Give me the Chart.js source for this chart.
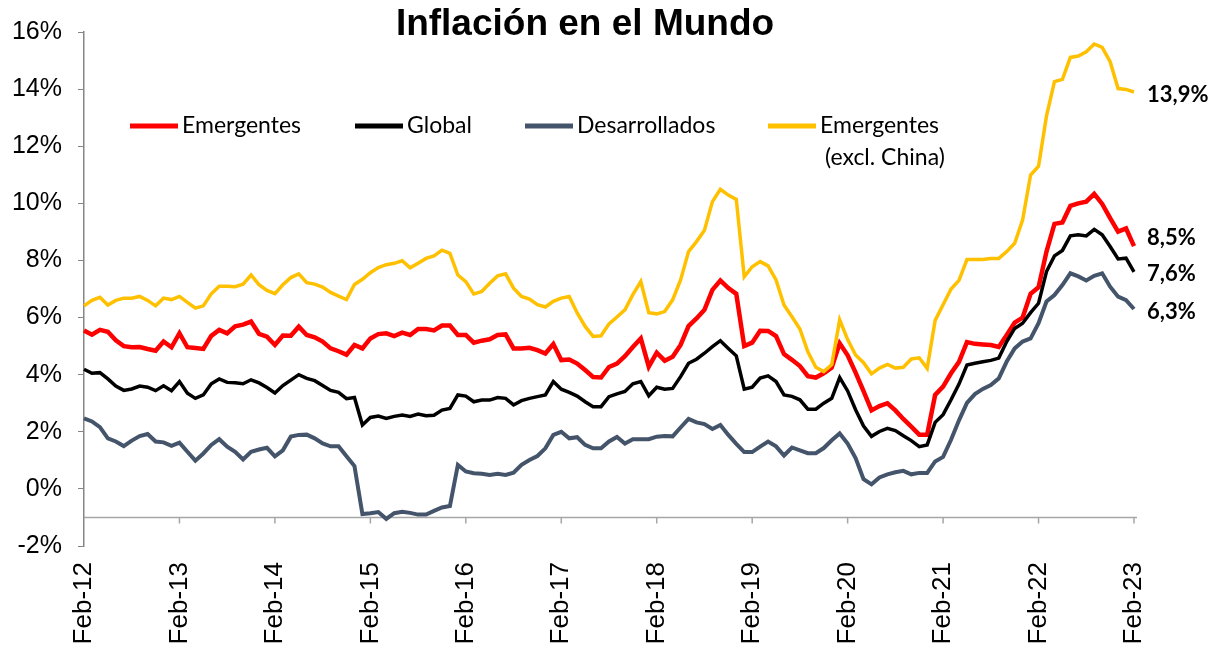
<!DOCTYPE html>
<html>
<head>
<meta charset="utf-8">
<script src="https://cdn.jsdelivr.net/npm/chart.js@4.4.0/dist/chart.umd.min.js"></script>
<style>
    html, body { margin: 0; padding: 0; background: #fff; }
    #caja { width: 1211px; height: 649px; }
</style>
</head>
<body>
<div id="caja"><canvas id="grafico" width="1211" height="649"></canvas></div>
<script>
// etiquetas del eje (una cada 12 meses)
const etiquetasEje = ['Feb-12', 'Feb-13', 'Feb-14', 'Feb-15', 'Feb-16', 'Feb-17',
    'Feb-18', 'Feb-19', 'Feb-20', 'Feb-21', 'Feb-22', 'Feb-23'];

const meses = ['Feb', 'Mar', 'Apr', 'May', 'Jun', 'Jul', 'Aug', 'Sep', 'Oct', 'Nov', 'Dec', 'Jan'];

const emergentes = [
    5.55, 5.4, 5.57, 5.5, 5.2, 5.0, 4.96, 4.97, 4.9, 4.84, 5.16, 4.96,
    5.45, 4.96, 4.93, 4.9, 5.36, 5.57, 5.45, 5.69, 5.75, 5.86, 5.43, 5.33,
    5.04, 5.37, 5.36, 5.68, 5.39, 5.31, 5.16, 4.92, 4.82, 4.7, 5.04, 4.92,
    5.27, 5.42, 5.45, 5.35, 5.47, 5.39, 5.6, 5.6, 5.55, 5.72, 5.72, 5.39,
    5.39, 5.12, 5.19, 5.24, 5.39, 5.41, 4.92, 4.92, 4.94, 4.86, 4.74, 5.07,
    4.51, 4.53, 4.39, 4.16, 3.92, 3.9, 4.27, 4.39, 4.65, 4.97, 5.27, 4.28,
    4.77, 4.49, 4.63, 5.04, 5.7, 5.97, 6.27, 6.97, 7.3, 7.03, 6.83, 5.0,
    5.12, 5.54, 5.53, 5.35, 4.72, 4.52, 4.3, 3.95, 3.9, 4.05, 4.25, 5.1,
    4.68, 4.07, 3.42, 2.75, 2.9, 3.0, 2.75, 2.45, 2.18, 1.9, 1.9, 3.29,
    3.58, 4.05, 4.45, 5.14, 5.08, 5.06, 5.04, 4.97, 5.39, 5.82, 6.0, 6.83,
    7.06, 8.31, 9.28, 9.33, 9.91, 10.0, 10.06, 10.33, 9.98, 9.48, 9.01, 9.12,
    8.5
];

const global = [
    4.19, 4.05, 4.07, 3.85, 3.6, 3.45, 3.5, 3.6, 3.56, 3.44, 3.61, 3.44,
    3.76, 3.35, 3.17, 3.29, 3.68, 3.85, 3.73, 3.72, 3.68, 3.82, 3.71, 3.55,
    3.36, 3.62, 3.81, 4.0, 3.87, 3.79, 3.62, 3.45, 3.38, 3.16, 3.2, 2.24,
    2.5, 2.55, 2.47, 2.54, 2.59, 2.54, 2.62, 2.56, 2.58, 2.76, 2.82, 3.29,
    3.25, 3.05, 3.11, 3.11, 3.2, 3.17, 2.94, 3.09, 3.17, 3.23, 3.29, 3.76,
    3.49, 3.38, 3.25, 3.05, 2.88, 2.88, 3.23, 3.33, 3.41, 3.68, 3.76, 3.26,
    3.56, 3.49, 3.52, 3.93, 4.4, 4.54, 4.75, 4.98, 5.19, 4.92, 4.66, 3.49,
    3.56, 3.88, 3.96, 3.76, 3.29, 3.24, 3.12, 2.79, 2.79, 3.0, 3.17, 3.9,
    3.43, 2.77, 2.2, 1.84, 2.01, 2.12, 2.04, 1.86, 1.69, 1.48, 1.54, 2.33,
    2.6, 3.12, 3.67, 4.34, 4.4, 4.45, 4.5, 4.58, 5.16, 5.62, 5.8, 6.17,
    6.5, 7.61, 8.16, 8.35, 8.86, 8.9, 8.86, 9.09, 8.9, 8.49, 8.05, 8.08,
    7.6
];

const desarrollados = [
    2.47, 2.36, 2.16, 1.77, 1.66, 1.5, 1.69, 1.85, 1.92, 1.66, 1.63, 1.51,
    1.62, 1.3, 0.99, 1.24, 1.54, 1.74, 1.48, 1.3, 1.03, 1.3, 1.38, 1.44,
    1.14, 1.35, 1.83, 1.89, 1.9, 1.77, 1.59, 1.49, 1.49, 1.14, 0.8, -0.88,
    -0.85, -0.81, -1.05, -0.85, -0.8, -0.84, -0.9, -0.9, -0.77, -0.65, -0.6, 0.84,
    0.61, 0.55, 0.53, 0.49, 0.53, 0.49, 0.57, 0.84, 1.01, 1.15, 1.42, 1.89,
    2.0, 1.77, 1.81, 1.54, 1.42, 1.42, 1.66, 1.82, 1.59, 1.74, 1.74, 1.74,
    1.83, 1.85, 1.84, 2.15, 2.45, 2.33, 2.27, 2.1, 2.24, 1.89, 1.58, 1.29,
    1.29, 1.48, 1.66, 1.49, 1.17, 1.45, 1.35, 1.25, 1.25, 1.43, 1.7, 1.94,
    1.59, 1.08, 0.34, 0.16, 0.4, 0.51, 0.58, 0.63, 0.51, 0.56, 0.56, 0.96,
    1.12, 1.72, 2.4, 3.01, 3.32, 3.5, 3.64, 3.87, 4.46, 4.92, 5.16, 5.27,
    5.8, 6.56, 6.79, 7.14, 7.55, 7.44, 7.3, 7.46, 7.55, 7.08, 6.73, 6.61,
    6.3
];

const emergentesSinChina = [
    6.41, 6.6, 6.71, 6.44, 6.6, 6.68, 6.68, 6.74, 6.6, 6.41, 6.68, 6.63,
    6.74, 6.53, 6.33, 6.41, 6.83, 7.1, 7.1, 7.08, 7.17, 7.49, 7.15, 6.95,
    6.84, 7.15, 7.4, 7.53, 7.22, 7.17, 7.07, 6.88, 6.75, 6.63, 7.16, 7.34,
    7.57, 7.75, 7.85, 7.9, 7.99, 7.74, 7.9, 8.07, 8.16, 8.36, 8.25, 7.49,
    7.26, 6.83, 6.91, 7.2, 7.46, 7.53, 7.03, 6.74, 6.65, 6.45, 6.37, 6.57,
    6.68, 6.74, 6.16, 5.69, 5.34, 5.36, 5.78, 6.02, 6.27, 6.8, 7.26, 6.17,
    6.13, 6.21, 6.62, 7.32, 8.31, 8.66, 9.06, 10.06, 10.49, 10.29, 10.14, 7.43,
    7.78, 7.96, 7.81, 7.32, 6.44, 6.03, 5.6, 4.8, 4.26, 4.11, 4.35, 5.92,
    5.23, 4.69, 4.42, 4.03, 4.23, 4.36, 4.23, 4.26, 4.55, 4.59, 4.22, 5.9,
    6.45, 7.0, 7.3, 8.03, 8.03, 8.03, 8.07, 8.07, 8.31, 8.6, 9.42, 10.99,
    11.3, 13.06, 14.26, 14.34, 15.11, 15.16, 15.31, 15.58, 15.46, 14.96, 14.02, 13.99,
    13.9
];

// un mes por categoria, de Feb-12 a Feb-23
const categorias = [];
for (let i = 0; i < emergentes.length; i++) {
    const anio = 12 + Math.floor((i + 1) / 12);
    categorias.push(meses[i % 12] + '-' + anio);
}

const series = [
    { nombre: ['Emergentes'], datos: emergentes, color: '#FF0000', ancho: 4.5, dy: -8, lx: 130 },
    { nombre: ['Global'], datos: global, color: '#000000', ancho: 3.5, dy: 2, lx: 355 },
    { nombre: ['Desarrollados'], datos: desarrollados, color: '#44546A', ancho: 4, dy: 3, lx: 525 },
    { nombre: ['Emergentes', '(excl. China)'], datos: emergentesSinChina, color: '#FFC000', ancho: 3.5, dy: 3, lx: 768 }
];

const fuente = '"Liberation Sans", Arial, sans-serif';

const extras = {
    id: 'extras',
    beforeDatasetsDraw(chart) {
        const { ctx, chartArea, scales: { x, y } } = chart;
        // eje horizontal cruzando en -1%
        const yEje = y.getPixelForValue(-1);
        ctx.save();
        ctx.strokeStyle = '#a6a6a6';
        ctx.lineWidth = 1.5;
        ctx.beginPath();
        ctx.moveTo(chartArea.left, yEje);
        ctx.lineTo(chartArea.right + 3, yEje);
        for (let i = 12; i < categorias.length; i += 12) {
            const px = x.getPixelForValue(i);
            ctx.moveTo(px, yEje);
            ctx.lineTo(px, yEje + 6);
        }
        ctx.stroke();
        ctx.restore();
    },
    afterDraw(chart) {
        const { ctx, scales: { x, y } } = chart;
        ctx.save();

        // titulo
        ctx.fillStyle = '#000';
        ctx.font = 'bold 37px ' + fuente;
        ctx.textAlign = 'center';
        ctx.textBaseline = 'middle';
        ctx.fillText('Inflación en el Mundo', 585, 25);

        // leyenda
        ctx.textAlign = 'left';
        ctx.font = '23px Lato, "Noto Sans", sans-serif';
        series.forEach(s => {
            ctx.strokeStyle = s.color;
            ctx.lineWidth = 5;
            ctx.beginPath();
            ctx.moveTo(s.lx, 126);
            ctx.lineTo(s.lx + 48, 126);
            ctx.stroke();
            ctx.fillStyle = '#000';
            s.nombre.forEach((t, k) => {
                ctx.fillText(t, s.lx + 52 + k * 5, 126 + k * 32);
            });
        });

        // valores finales
        ctx.font = 'bold 22px Lato, "Noto Sans", sans-serif';
        series.forEach(s => {
            const n = s.datos.length - 1;
            const v = s.datos[n];
            const px = x.getPixelForValue(n) + 13;
            const py = y.getPixelForValue(v) + s.dy;
            ctx.fillText(v.toFixed(1).replace('.', ',') + '%', px, py);
        });
        ctx.restore();
    }
};

const ctx = document.getElementById('grafico');

const grafico = new Chart(ctx, {
    type: 'line',
    data: {
        labels: categorias,
        datasets: series.map((s, k) => ({
            label: s.nombre.join(' '),
            data: s.datos,
            borderColor: s.color,
            backgroundColor: s.color,
            borderWidth: s.ancho,
            pointRadius: 0,
            tension: 0,
            order: series.length - k
        }))
    },
    options: {
        responsive: false,
        animation: false,
        devicePixelRatio: 1,
        layout: {
            padding: { top: 32, right: 77, left: 0, bottom: 0 }
        },
        plugins: {
            legend: { display: false },
            tooltip: { enabled: false }
        },
        scales: {
            x: {
                offset: false,
                grid: { display: false },
                border: { display: false },
                ticks: {
                    autoSkip: false,
                    minRotation: 90,
                    maxRotation: 90,
                    padding: 8,
                    color: '#000',
                    font: { family: fuente, size: 26 },
                    callback: (v, i) => i % 12 === 0 ? etiquetasEje[i / 12] : null
                },
                afterFit: (escala) => { escala.height = 103; }
            },
            y: {
                min: -2,
                max: 16,
                grid: {
                    drawOnChartArea: false,
                    drawTicks: true,
                    tickLength: 6,
                    color: '#868686'
                },
                border: { display: true, color: '#868686', width: 1.5 },
                ticks: {
                    stepSize: 2,
                    padding: 16,
                    color: '#000',
                    font: { family: fuente, size: 25 },
                    callback: v => v + '%'
                },
                afterFit: (escala) => { escala.width = 84; }
            }
        }
    },
    plugins: [extras]
});
</script>
</body>
</html>
